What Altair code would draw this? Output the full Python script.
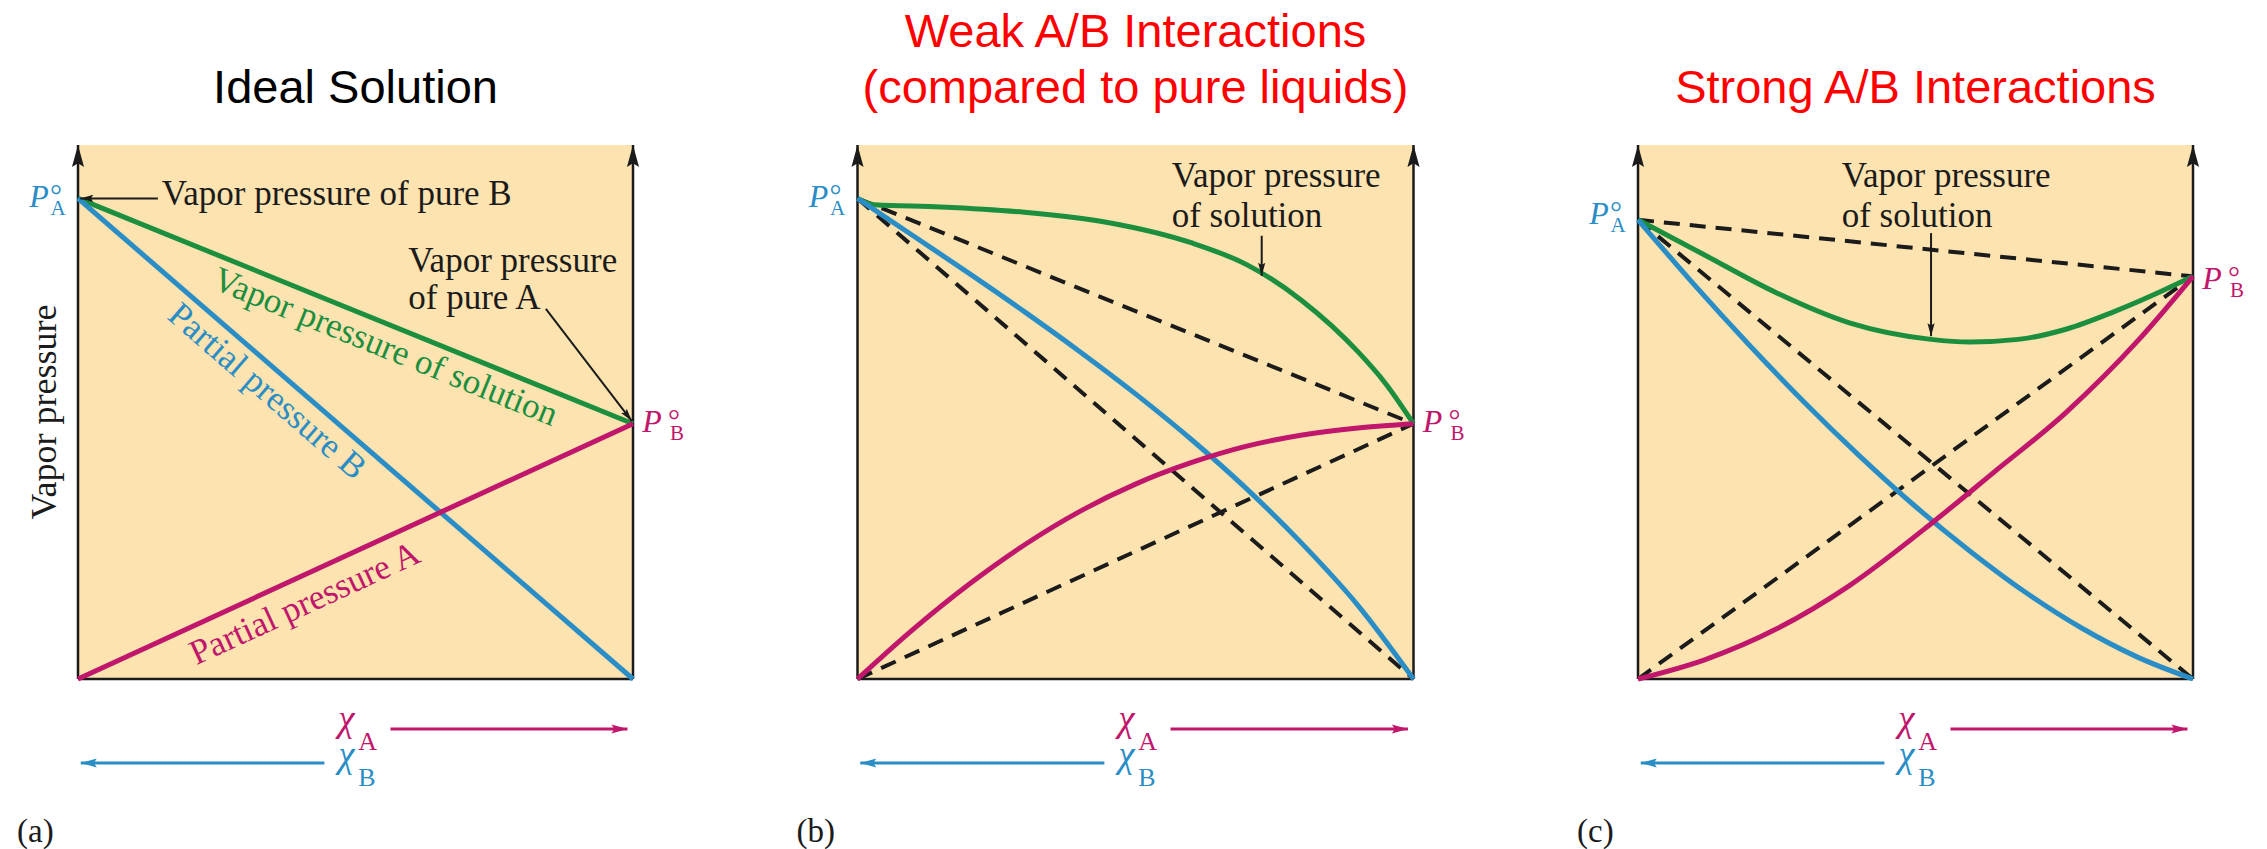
import altair as alt
import pandas as pd

# ---------------------------------------------------------------------------
# Vapour-pressure diagrams.  x = mole fraction of A (0 at the left axis),
# y = vapour pressure as a fraction of the drawn axis height.
# ---------------------------------------------------------------------------

# end-point pressures
P_A_AB, P_B_AB = 0.90, 0.478      # panels (a) and (b)
P_A_C, P_B_C = 0.86, 0.754        # panel (c)

# (a) ideal solution: straight lines
ideal_x = [0.0, 1.0]
ideal_partial_b = [0.90, 0.0]
ideal_partial_a = [0.0, 0.478]
ideal_total = [0.90, 0.478]

# (b) weak A/B interactions (positive deviation)
weak_total_x = [0.0, 0.03, 0.15, 0.30, 0.45, 0.60, 0.70, 0.80, 0.90, 0.95, 1.0]
weak_total_y = [0.90, 0.888, 0.884, 0.874, 0.855, 0.817, 0.776, 0.708, 0.613, 0.553, 0.478]
weak_partial_b_x = [0.0, 0.1, 0.2, 0.3, 0.4, 0.5, 0.6, 0.7, 0.8, 0.9, 1.0]
weak_partial_b_y = [0.90, 0.83, 0.76, 0.688, 0.613, 0.534, 0.449, 0.356, 0.253, 0.138, 0.0]
weak_partial_a_x = [0.0, 0.1, 0.2, 0.3, 0.4, 0.5, 0.6, 0.7, 0.8, 0.9, 1.0]
weak_partial_a_y = [0.0, 0.093, 0.177, 0.251, 0.314, 0.365, 0.405, 0.436, 0.457, 0.470, 0.478]

# (c) strong A/B interactions (negative deviation)
strong_total_x = [0.0, 0.120, 0.250, 0.381, 0.528, 0.598, 0.685, 0.771, 0.858, 0.945, 1.0]
strong_total_y = [0.86, 0.794, 0.723, 0.667, 0.636, 0.631, 0.636, 0.655, 0.688, 0.727, 0.754]
strong_partial_b_x = [0.0, 0.1, 0.2, 0.3, 0.4, 0.5, 0.6, 0.7, 0.8, 0.9, 1.0]
strong_partial_b_y = [0.86, 0.740, 0.626, 0.518, 0.417, 0.323, 0.238, 0.161, 0.095, 0.041, 0.0]
strong_partial_a_x = [0.0, 0.120, 0.250, 0.381, 0.533, 0.641, 0.771, 0.902, 1.0]
strong_partial_a_y = [0.0, 0.036, 0.094, 0.175, 0.295, 0.387, 0.499, 0.635, 0.754]

# annotation anchors (data units)
pure_b_text_xy = (0.151, 0.90)
pure_b_arrow = (0.144, 0.90, 0.004, 0.90)
pure_a_text_x = 0.595
pure_a_text_y = [0.763, 0.692]
pure_a_arrow = (0.843, 0.693, 0.998, 0.483)
ideal_total_label_xy = (0.569, 0.66)
ideal_b_label_xy = (0.367, 0.57)
ideal_a_label_xy = (0.389, 0.186)
weak_sol_text_x, weak_sol_text_y = 0.565, [0.921, 0.846]
weak_sol_arrow = (0.727, 0.830, 0.727, 0.755)
strong_sol_text_x, strong_sol_text_y = 0.367, [0.921, 0.846]
strong_sol_arrow = (0.528, 0.835, 0.528, 0.642)
chi_label_x, chi_sub_x = 0.469, 0.505
chi_a_arrow_x = (0.563, 0.99)
chi_b_arrow_x = (0.444, 0.005)

# ---------------------------------------------------------------------------
BLUE = "#2A8DC5"
MAGENTA = "#C0166C"
GREEN = "#1C8F3F"
INK = "#1B1B1B"
PEACH = "#FCE3B0"
RED = "#FF0000"
SERIF = "Liberation Serif"
SANS = "Liberation Sans"
W, H = 555, 534
ARROW_UP = "M0,0 L0.55,2 L0,1.65 L-0.55,2 Z"

XS = alt.Scale(domain=[0, 1], nice=False, zero=False)
YS = alt.Scale(domain=[0, 1], nice=False, zero=False)


def xenc(f="x"):
    return alt.X(f"{f}:Q", scale=XS, axis=None)


def yenc(f="y"):
    return alt.Y(f"{f}:Q", scale=YS, axis=None)


def curve(xs, ys, color, dash=None, width=5):
    kw = dict(color=color, strokeWidth=width, interpolate="monotone")
    if dash:
        kw["strokeDash"] = dash
    return alt.Chart(pd.DataFrame({"x": xs, "y": ys})).mark_line(**kw).encode(
        x=xenc(), y=yenc())


def raoult_lines(pa, pb):
    return [
        curve([0, 1], [pa, 0], INK, dash=[16, 10], width=4),
        curve([0, 1], [0, pb], INK, dash=[16, 10], width=4),
        curve([0, 1], [pa, pb], INK, dash=[16, 10], width=4),
    ]


def frame():
    df = pd.DataFrame({"x": [0, 1, 0], "x2": [0, 1, 1],
                       "y": [0, 0, 0], "y2": [1, 1, 0]})
    rules = alt.Chart(df).mark_rule(color=INK, strokeWidth=2.5).encode(
        x=xenc(), x2="x2:Q", y=yenc(), y2="y2:Q")
    heads = alt.Chart(pd.DataFrame({"x": [0, 1], "y": [1, 1]})).mark_point(
        shape=ARROW_UP, size=484, filled=True, color=INK, opacity=1,
        strokeWidth=0).encode(x=xenc(), y=yenc())
    return [rules, heads]


def arrow(seg, angle, color=INK, width=2, size=196):
    x0, y0, x1, y1 = seg
    line = alt.Chart(pd.DataFrame({"x": [x0], "y": [y0], "x2": [x1], "y2": [y1]})
                     ).mark_rule(color=color, strokeWidth=width).encode(
        x=xenc(), y=yenc(), x2="x2:Q", y2="y2:Q")
    head = alt.Chart(pd.DataFrame({"x": [x1], "y": [y1]})).mark_point(
        shape=ARROW_UP, size=size, filled=True, color=color, opacity=1,
        strokeWidth=0, angle=angle).encode(x=xenc(), y=yenc())
    return [line, head]


def label(x, y, text, color=INK, size=35, font=SERIF, align="left",
          baseline="alphabetic", dx=0, dy=0, angle=0, italic=False, ypx=None):
    df = pd.DataFrame({"x": [x], "y": [y], "t": [text]})
    m = alt.Chart(df).mark_text(
        color=color, fontSize=size, font=font, align=align, baseline=baseline,
        dx=dx, dy=dy, angle=angle, fontStyle="italic" if italic else "normal")
    yy = alt.value(ypx) if ypx is not None else yenc()
    return m.encode(x=xenc(), y=yy, text="t:N")


def p_symbol(x, y, sub, color, side, shift=0):
    # P with a degree sign and a subscript, beside an axis end point
    if side == "left":
        return [label(x, y, "P", color, 32, align="center", dx=-39, dy=9 + shift, italic=True),
                label(x, y, "°", color, 30, align="center", dx=-22, dy=7 + shift),
                label(x, y, sub, color, 21, align="center", dx=-20, dy=17 + shift)]
    return [label(x, y, "P", color, 32, align="center", dx=19, dy=8 + shift, italic=True),
            label(x, y, "°", color, 30, align="center", dx=41, dy=6 + shift),
            label(x, y, sub, color, 21, align="center", dx=44, dy=16 + shift)]


def chi_arrow(xr, ypx, color, angle):
    line = alt.Chart(pd.DataFrame({"x": [xr[0]], "x2": [xr[1]]})).mark_rule(
        color=color, strokeWidth=3).encode(x=xenc(), x2="x2:Q", y=alt.value(ypx))
    head = alt.Chart(pd.DataFrame({"x": [xr[1]]})).mark_point(
        shape=ARROW_UP, size=256, filled=True, color=color, opacity=1,
        strokeWidth=0, angle=angle).encode(x=xenc(), y=alt.value(ypx))
    return [line, head]


def chi_axis():
    return [
        label(chi_label_x, 0, "χ", MAGENTA, 37, italic=True, ypx=H + 52),
        label(chi_sub_x, 0, "A", MAGENTA, 26, ypx=H + 71),
        label(chi_label_x, 0, "χ", BLUE, 37, italic=True, ypx=H + 88),
        label(chi_sub_x, 0, "B", BLUE, 26, ypx=H + 107),
        *chi_arrow(chi_a_arrow_x, H + 50, MAGENTA, 90),
        *chi_arrow(chi_b_arrow_x, H + 84, BLUE, 270),
    ]


def fixed_text(text, xpx, ypx, size=33, angle=0, align="left"):
    df = pd.DataFrame({"t": [text]})
    return alt.Chart(df).mark_text(font=SERIF, fontSize=size, color=INK, align=align,
                                   baseline="alphabetic", angle=angle).encode(
        x=alt.value(xpx), y=alt.value(ypx), text="t:N")


def title(text, color):
    return alt.TitleParams(text=text, color=color, font=SANS, fontSize=47,
                           fontWeight="normal", anchor="middle", baseline="bottom",
                           offset=-16, lineHeight=56)


# ---------------- panel (a) ----------------
layers_a = [
    *frame(),
    curve(ideal_x, ideal_total, GREEN),
    curve(ideal_x, ideal_partial_b, BLUE),
    curve(ideal_x, ideal_partial_a, MAGENTA),
    label(*pure_b_text_xy, "Vapor pressure of pure B", dy=7),
    *arrow(pure_b_arrow, 270, size=169),
    label(pure_a_text_x, pure_a_text_y[0], "Vapor pressure"),
    label(pure_a_text_x, pure_a_text_y[1], "of pure A"),
    *arrow(pure_a_arrow, 142, size=169),
    label(*ideal_total_label_xy, "Vapor pressure of solution", GREEN, align="center",
          baseline="middle", angle=22.1, dy=22),
    label(*ideal_b_label_xy, "Partial pressure B", BLUE, align="center",
          baseline="middle", angle=40.9, dy=22),
    label(*ideal_a_label_xy, "Partial pressure A", MAGENTA, align="center",
          baseline="middle", angle=335.3, dy=26),
    *p_symbol(0, P_A_AB, "A", BLUE, "left"),
    *p_symbol(1, P_B_AB, "B", MAGENTA, "right"),
    *chi_axis(),
    fixed_text("Vapor pressure", -22, H / 2, size=36, angle=270, align="center"),
    fixed_text("(a)", -61, H + 163),
]
panel_a = alt.layer(*layers_a).properties(
    width=W, height=H, title=title("Ideal Solution", "black"))

# ---------------- panel (b) ----------------
layers_b = [
    *frame(),
    *raoult_lines(P_A_AB, P_B_AB),
    curve(weak_total_x, weak_total_y, GREEN),
    curve(weak_partial_b_x, weak_partial_b_y, BLUE),
    curve(weak_partial_a_x, weak_partial_a_y, MAGENTA),
    label(weak_sol_text_x, weak_sol_text_y[0], "Vapor pressure"),
    label(weak_sol_text_x, weak_sol_text_y[1], "of solution"),
    *arrow(weak_sol_arrow, 180, size=169),
    *p_symbol(0, P_A_AB, "A", BLUE, "left"),
    *p_symbol(1, P_B_AB, "B", MAGENTA, "right"),
    *chi_axis(),
    fixed_text("(b)", -61, H + 163),
]
panel_b = alt.layer(*layers_b).properties(
    width=W + 1, height=H,
    title=title(["Weak A/B Interactions", "(compared to pure liquids)"], RED))

# ---------------- panel (c) ----------------
layers_c = [
    *frame(),
    *raoult_lines(P_A_C, P_B_C),
    curve(strong_total_x, strong_total_y, GREEN),
    curve(strong_partial_b_x, strong_partial_b_y, BLUE),
    curve(strong_partial_a_x, strong_partial_a_y, MAGENTA),
    label(strong_sol_text_x, strong_sol_text_y[0], "Vapor pressure"),
    label(strong_sol_text_x, strong_sol_text_y[1], "of solution"),
    *arrow(strong_sol_arrow, 180, size=169),
    *p_symbol(0, P_A_C, "A", BLUE, "left", shift=-5),
    *p_symbol(1, P_B_C, "B", MAGENTA, "right", shift=5),
    *chi_axis(),
    fixed_text("(c)", -61, H + 163),
]
panel_c = alt.layer(*layers_c).properties(
    width=W, height=H, title=title("Strong A/B Interactions", RED))

chart = alt.hconcat(panel_a, panel_b, panel_c, spacing=224.5, bounds="flush").properties(
    padding={"left": 17, "top": 8, "right": 0, "bottom": 0},
    background="white",
).configure_view(fill=PEACH, stroke=None)

chart.save("out.html", embed_options={"renderer": "svg", "actions": False})
